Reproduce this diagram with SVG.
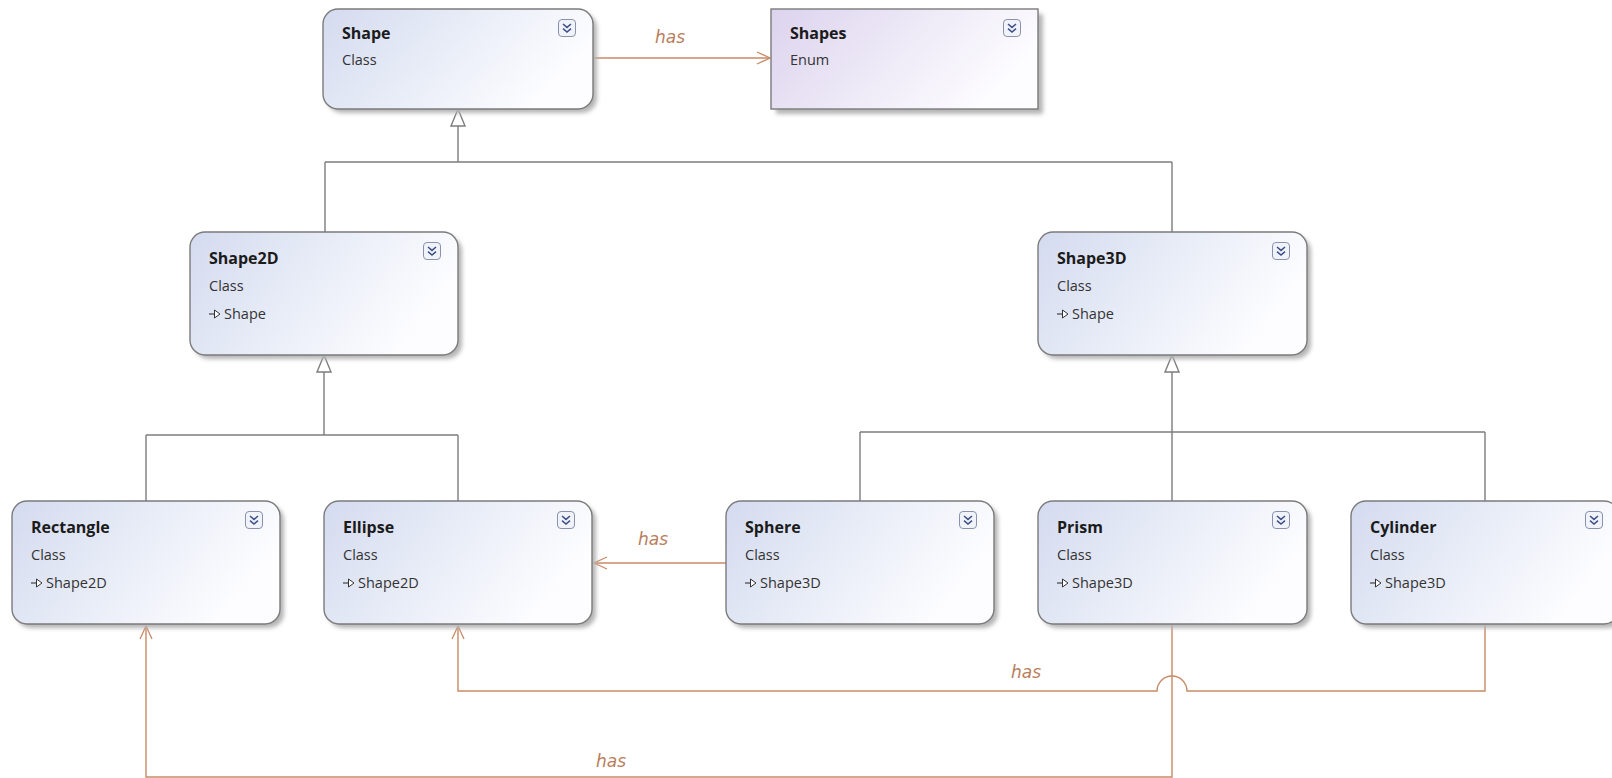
<svg xmlns="http://www.w3.org/2000/svg" width="1612" height="778" viewBox="0 0 1612 778">
  <defs>
    <linearGradient id="gClass" x1="0" y1="0" x2="1" y2="0.35">
      <stop offset="0" stop-color="#d4dbef"/>
      <stop offset="0.55" stop-color="#eaeef8"/>
      <stop offset="1" stop-color="#fdfdff"/>
    </linearGradient>
    <linearGradient id="gEnum" x1="0" y1="0" x2="1" y2="0.35">
      <stop offset="0" stop-color="#dcd3ee"/>
      <stop offset="0.55" stop-color="#eeeaf7"/>
      <stop offset="1" stop-color="#fdfcff"/>
    </linearGradient>
    <filter id="soft" x="-10%" y="-10%" width="120%" height="130%">
      <feGaussianBlur stdDeviation="2"/>
    </filter>
    <marker id="open" markerWidth="16" markerHeight="14" refX="14" refY="7" orient="auto" markerUnits="userSpaceOnUse">
      <path d="M1,1 L14,7 L1,13" fill="none" stroke="#c88a66" stroke-width="1.3"/>
    </marker>
    <!-- expand/collapse toggle -->
    <g id="toggle">
      <rect x="-8.5" y="-8.5" width="17" height="17" rx="3.5" fill="#f1f3fb" stroke="#8a93ad" stroke-width="1"/>
      <path d="M-4,-4 L0,-0.6 L4,-4 M-4,0.6 L0,4 L4,0.6" fill="none" stroke="#3d4f85" stroke-width="1.5"/>
    </g>
    <!-- inherits-from glyph -->
    <g id="inh">
      <path d="M0,0 H6.5" stroke="#333" stroke-width="1.1"/>
      <path d="M5.5,-4 L11,0 L5.5,4 Z" fill="#fff" stroke="#333" stroke-width="1"/>
    </g>
  </defs>
  <style>
    .box { stroke: #7b7b7b; stroke-width: 1.4; }
    .shadow { fill: #b5b5b5; filter: url(#soft); }
    .title { font-family: "Open Sans", "Noto Sans", sans-serif; font-weight: bold; font-size: 16px; fill: #1b1b1b; }
    .kind { font-family: "Open Sans", "Noto Sans", sans-serif; font-size: 14.5px; fill: #333; }
    .gen { fill: none; stroke: #7d7d7d; stroke-width: 1.4; }
    .tri { fill: #fff; stroke: #7d7d7d; stroke-width: 1.4; }
    .assoc { fill: none; stroke: #c88a66; stroke-width: 1.4; }
    .has { font-family: "DejaVu Sans", "Noto Sans", sans-serif; font-style: italic; font-size: 17px; fill: #b97d5c; }
  </style>
  <rect width="1612" height="778" fill="#ffffff"/>

  <!-- connectors -->
  <g id="connectors">
    <!-- generalisation: Shape2D, Shape3D -> Shape -->
    <path class="gen" d="M458,126 V162 M325,162 H1172 M325,162 V232 M1172,162 V232"/>
    <path class="tri" d="M458,109 L451,126 L465,126 Z"/>
    <!-- generalisation: Rectangle, Ellipse -> Shape2D -->
    <path class="gen" d="M324,372 V435 M146,435 H458 M146,435 V501 M458,435 V501"/>
    <path class="tri" d="M324,355 L317,372 L331,372 Z"/>
    <!-- generalisation: Sphere, Prism, Cylinder -> Shape3D -->
    <path class="gen" d="M1172,372 V501 M860,432 H1485 M860,432 V501 M1485,432 V501"/>
    <path class="tri" d="M1172,355 L1165,372 L1179,372 Z"/>

    <!-- associations -->
    <path class="assoc" d="M594,58 H770" marker-end="url(#open)"/>
    <text class="has" x="655" y="43">has</text>

    <path class="assoc" d="M726,563 H594" marker-end="url(#open)"/>
    <text class="has" x="638" y="545">has</text>

    <path class="assoc" d="M1485,624 V691 H1187 A15,15 0 0 0 1157,691 H458 V626" marker-end="url(#open)"/>
    <text class="has" x="1011" y="678">has</text>

    <path class="assoc" d="M1172,624 V777 H146 V626" marker-end="url(#open)"/>
    <text class="has" x="596" y="767">has</text>
  </g>

  <!-- Shape -->
  <g id="node-shape">
    <rect class="shadow" x="327" y="13" width="270" height="100" rx="15"/>
    <rect class="box" x="323" y="9" width="270" height="100" rx="15" fill="url(#gClass)"/>
    <use href="#toggle" x="567" y="28"/>
    <text class="title" x="342" y="39">Shape</text>
    <text class="kind" x="342" y="65">Class</text>
  </g>

  <!-- Shapes -->
  <g id="node-shapes">
    <rect class="shadow" x="776" y="14" width="267" height="100" rx="1"/>
    <rect class="box" x="771" y="9" width="267" height="100" fill="url(#gEnum)"/>
    <use href="#toggle" x="1012" y="28"/>
    <text class="title" x="790" y="39">Shapes</text>
    <text class="kind" x="790" y="65">Enum</text>
  </g>

  <!-- Shape2D -->
  <g id="node-shape2d">
    <rect class="shadow" x="194" y="236" width="268" height="123" rx="15"/>
    <rect class="box" x="190" y="232" width="268" height="123" rx="15" fill="url(#gClass)"/>
    <use href="#toggle" x="432" y="251"/>
    <text class="title" x="209" y="264">Shape2D</text>
    <text class="kind" x="209" y="291">Class</text>
    <use href="#inh" x="209" y="314"/>
    <text class="kind" x="224" y="319">Shape</text>
  </g>

  <!-- Shape3D -->
  <g id="node-shape3d">
    <rect class="shadow" x="1042" y="236" width="269" height="123" rx="15"/>
    <rect class="box" x="1038" y="232" width="269" height="123" rx="15" fill="url(#gClass)"/>
    <use href="#toggle" x="1281" y="251"/>
    <text class="title" x="1057" y="264">Shape3D</text>
    <text class="kind" x="1057" y="291">Class</text>
    <use href="#inh" x="1057" y="314"/>
    <text class="kind" x="1072" y="319">Shape</text>
  </g>

  <!-- Rectangle -->
  <g id="node-rectangle">
    <rect class="shadow" x="16" y="505" width="268" height="123" rx="15"/>
    <rect class="box" x="12" y="501" width="268" height="123" rx="15" fill="url(#gClass)"/>
    <use href="#toggle" x="254" y="520"/>
    <text class="title" x="31" y="533">Rectangle</text>
    <text class="kind" x="31" y="560">Class</text>
    <use href="#inh" x="31" y="583"/>
    <text class="kind" x="46" y="588">Shape2D</text>
  </g>

  <!-- Ellipse -->
  <g id="node-ellipse">
    <rect class="shadow" x="328" y="505" width="268" height="123" rx="15"/>
    <rect class="box" x="324" y="501" width="268" height="123" rx="15" fill="url(#gClass)"/>
    <use href="#toggle" x="566" y="520"/>
    <text class="title" x="343" y="533">Ellipse</text>
    <text class="kind" x="343" y="560">Class</text>
    <use href="#inh" x="343" y="583"/>
    <text class="kind" x="358" y="588">Shape2D</text>
  </g>

  <!-- Sphere -->
  <g id="node-sphere">
    <rect class="shadow" x="730" y="505" width="268" height="123" rx="15"/>
    <rect class="box" x="726" y="501" width="268" height="123" rx="15" fill="url(#gClass)"/>
    <use href="#toggle" x="968" y="520"/>
    <text class="title" x="745" y="533">Sphere</text>
    <text class="kind" x="745" y="560">Class</text>
    <use href="#inh" x="745" y="583"/>
    <text class="kind" x="760" y="588">Shape3D</text>
  </g>

  <!-- Prism -->
  <g id="node-prism">
    <rect class="shadow" x="1042" y="505" width="269" height="123" rx="15"/>
    <rect class="box" x="1038" y="501" width="269" height="123" rx="15" fill="url(#gClass)"/>
    <use href="#toggle" x="1281" y="520"/>
    <text class="title" x="1057" y="533">Prism</text>
    <text class="kind" x="1057" y="560">Class</text>
    <use href="#inh" x="1057" y="583"/>
    <text class="kind" x="1072" y="588">Shape3D</text>
  </g>

  <!-- Cylinder -->
  <g id="node-cylinder">
    <rect class="shadow" x="1355" y="505" width="268" height="123" rx="15"/>
    <rect class="box" x="1351" y="501" width="268" height="123" rx="15" fill="url(#gClass)"/>
    <use href="#toggle" x="1594" y="520"/>
    <text class="title" x="1370" y="533">Cylinder</text>
    <text class="kind" x="1370" y="560">Class</text>
    <use href="#inh" x="1370" y="583"/>
    <text class="kind" x="1385" y="588">Shape3D</text>
  </g>
</svg>
